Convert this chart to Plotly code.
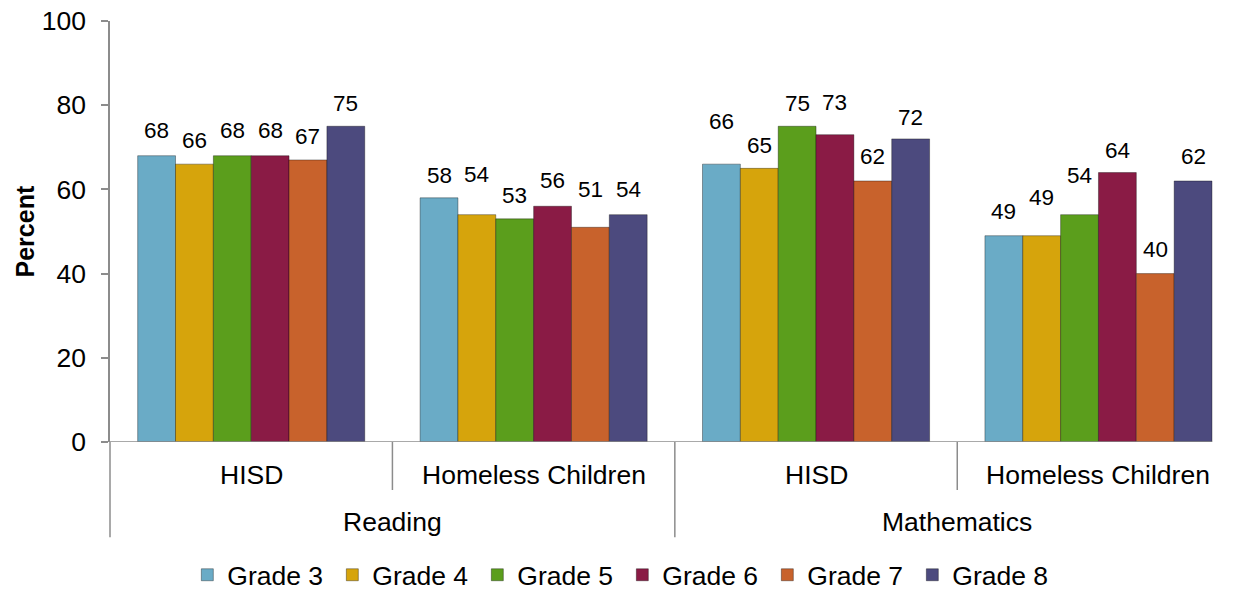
import plotly.graph_objects as go

groups = ["HISD", "Homeless Children", "HISD", "Homeless Children"]
subjects = ["Reading", "Mathematics"]
series_names = ["Grade 3", "Grade 4", "Grade 5", "Grade 6", "Grade 7", "Grade 8"]
grade3 = [68, 58, 66, 49]
grade4 = [66, 54, 65, 49]
grade5 = [68, 53, 75, 54]
grade6 = [68, 56, 73, 64]
grade7 = [67, 51, 62, 40]
grade8 = [75, 54, 72, 62]
colors = ["#6aabc6", "#d6a40c", "#5b9e1c", "#8a1b45", "#c8622c", "#4c4a7e"]
y_ticks = [0, 20, 40, 60, 80, 100]

# label gap (px) above each bar, per series then per group (style only)
label_gaps = [
    [18, 15, 35, 17],
    [16, 33, 15, 31],
    [18, 16, 15, 32],
    [18, 18, 25, 15],
    [16, 30, 17, 17],
    [15, 18, 14, 17],
]

values = [grade3, grade4, grade5, grade6, grade7, grade8]
xpos = list(range(len(groups)))
XR = [-0.5, 3.487]
FONT = "Liberation Sans, Arial, sans-serif"
BARGAP = 0.196
nser = len(series_names)

fig = go.Figure()
for name, vals, col in zip(series_names, values, colors):
    fig.add_trace(go.Bar(
        x=xpos, y=vals, name=name,
        marker=dict(color=col, line=dict(color="rgba(0,0,0,0.35)", width=1)),
    ))

def xp(v):
    return (v - XR[0]) / (XR[1] - XR[0])

shapes = []
axis_col = "#8c8c8c"
shapes.append(dict(type="line", xref="paper", yref="y", x0=xp(-0.5) - 0.0065, x1=xp(3.5 - BARGAP / 2), y0=0, y1=0,
                   line=dict(color=axis_col, width=1.5)))
shapes.append(dict(type="line", xref="paper", yref="paper", x0=0, x1=0, y0=0, y1=-0.226,
                   line=dict(color=axis_col, width=1.5)))
for d, length in [(0.5, -0.114), (1.5, -0.226), (2.5, -0.114)]:
    shapes.append(dict(type="line", xref="paper", yref="paper", x0=xp(d), x1=xp(d), y0=0, y1=length,
                       line=dict(color=axis_col, width=1.5)))

annotations = []
bw = (1 - BARGAP) / nser
for k, (vals, gaps) in enumerate(zip(values, label_gaps)):
    for g, (v, gap) in enumerate(zip(vals, gaps)):
        cx = g - (1 - BARGAP) / 2 + (k + 0.5) * bw
        annotations.append(dict(x=cx, y=v, xref="x", yref="y", text=str(v), showarrow=False,
                                yanchor="bottom", xanchor="center", yshift=gap - 7,
                                font=dict(size=22.5, color="#000", family=FONT)))
for i, g in enumerate(groups):
    annotations.append(dict(x=i, y=-0.078, xref="x", yref="paper", text=g, showarrow=False,
                            font=dict(size=26.5, color="#000", family=FONT), yanchor="middle"))
for j, s in enumerate(subjects):
    annotations.append(dict(x=0.5 + 2 * j, y=-0.19, xref="x", yref="paper", text=s, showarrow=False,
                            font=dict(size=26.5, color="#000", family=FONT), yanchor="middle"))
annotations.append(dict(x=-0.0755, y=0.5, xref="paper", yref="paper", text="<b>Percent</b>",
                        textangle=-90, showarrow=False, font=dict(size=25, color="#000", family=FONT),
                        xanchor="center", yanchor="middle"))

fig.update_layout(
    width=1236, height=590,
    margin=dict(l=110, r=0, t=21, b=148, autoexpand=False),
    paper_bgcolor="white", plot_bgcolor="white",
    barmode="group", bargap=BARGAP, bargroupgap=0,
    font=dict(family=FONT, size=26.5, color="#000"),
    xaxis=dict(range=XR, showticklabels=False, showgrid=False, zeroline=False, showline=False, ticks="",
               automargin=False),
    yaxis=dict(range=[0, 100], tickvals=y_ticks, showgrid=False, zeroline=False, showline=True,
               linecolor=axis_col, linewidth=1.5, ticks="outside", ticklen=7, tickcolor=axis_col,
               tickwidth=1.5, tickfont=dict(size=26.5, color="#000", family=FONT),
               ticklabelstandoff=10, automargin=False, ticklabeloverflow="allow"),
    legend=dict(orientation="h", x=0.455, xanchor="center", y=-0.316, yanchor="middle",
                font=dict(size=26.5, family=FONT), entrywidth=100, traceorder="normal"),
    shapes=shapes, annotations=annotations,
    showlegend=True,
)

fig.write_html("out.html", config={"displayModeBar": False},
               post_script="document.body.style.margin='0px';document.body.style.overflow='hidden';")
